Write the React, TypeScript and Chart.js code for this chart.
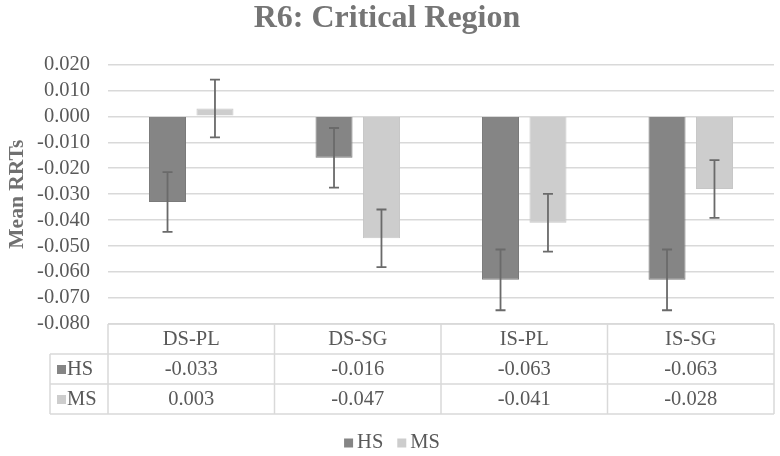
import React, { useRef, useEffect } from "react";
import { Chart, registerables } from "chart.js";

Chart.register(...registerables);

const categories = ["DS-PL", "DS-SG", "IS-PL", "IS-SG"];
const seriesNames = ["HS", "MS"];
const hsValues = [-0.033, -0.016, -0.063, -0.063];
const msValues = [0.003, -0.047, -0.041, -0.028];
const hsErrors = [0.0115, 0.0115, 0.0117, 0.0117];
const msErrors = [0.0111, 0.0111, 0.0111, 0.0111];
const seriesColors = ["#858585", "#cdcdcd"];
const yMin = -0.08;
const yMax = 0.02;
const yStep = 0.01;

const FONT = "'Liberation Serif', 'Times New Roman', serif";
const TEXT = "#595959";
const LINE = "#d9d9d9";
const ROW_H = 30;

const errorBars = {
  id: "errorBars",
  afterDatasetsDraw(chart: any) {
    const ctx = chart.ctx;
    const y = chart.scales.y;
    const errs = [hsErrors, msErrors];
    ctx.save();
    ctx.strokeStyle = "#6a6a6a";
    ctx.lineWidth = 1.8;
    chart.data.datasets.forEach((ds: any, di: number) => {
      const meta = chart.getDatasetMeta(di);
      meta.data.forEach((bar: any, i: number) => {
        const v = ds.data[i] as number;
        const top = y.getPixelForValue(v + errs[di][i]);
        const bot = y.getPixelForValue(v - errs[di][i]);
        ctx.beginPath();
        ctx.moveTo(bar.x, top);
        ctx.lineTo(bar.x, bot);
        ctx.moveTo(bar.x - 5, top);
        ctx.lineTo(bar.x + 5, top);
        ctx.moveTo(bar.x - 5, bot);
        ctx.lineTo(bar.x + 5, bot);
        ctx.stroke();
      });
    });
    ctx.restore();
  },
};

const dataTable = {
  id: "dataTable",
  afterDraw(chart: any) {
    const ctx = chart.ctx;
    const { left, right, bottom } = chart.chartArea;
    const x = chart.scales.x;
    const n = categories.length;
    const colW = (right - left) / n;
    const labelLeft = 50;
    const top = bottom;
    ctx.save();
    ctx.strokeStyle = LINE;
    ctx.lineWidth = 1.5;
    ctx.beginPath();
    ctx.moveTo(left, top);
    ctx.lineTo(right, top);
    for (let r = 1; r <= 3; r++) {
      ctx.moveTo(labelLeft, top + r * ROW_H);
      ctx.lineTo(right, top + r * ROW_H);
    }
    for (let c = 0; c <= n; c++) {
      ctx.moveTo(left + c * colW, top);
      ctx.lineTo(left + c * colW, top + 3 * ROW_H);
    }
    ctx.moveTo(labelLeft, top + ROW_H);
    ctx.lineTo(labelLeft, top + 3 * ROW_H);
    ctx.stroke();

    ctx.font = `20.5px ${FONT}`;
    ctx.fillStyle = TEXT;
    ctx.textAlign = "center";
    ctx.textBaseline = "middle";
    categories.forEach((c, i) => {
      ctx.fillText(c, x.getPixelForValue(i), top + ROW_H / 2 + 1);
    });
    chart.data.datasets.forEach((ds: any, di: number) => {
      const cy = top + ROW_H * (di + 1) + ROW_H / 2 + 1;
      ds.data.forEach((v: number, i: number) => {
        ctx.fillStyle = TEXT;
        ctx.textAlign = "center";
        ctx.fillText(v.toFixed(3), x.getPixelForValue(i), cy);
      });
      ctx.fillStyle = ds.backgroundColor;
      ctx.fillRect(57, cy - 5, 9, 9);
      ctx.fillStyle = TEXT;
      ctx.textAlign = "left";
      ctx.fillText(ds.label, 67, cy);
    });

    // legend
    const legY = 443;
    const sw = 9;
    const gap = 4;
    const itemGap = 14;
    const widths = chart.data.datasets.map((ds: any) => sw + gap + ctx.measureText(ds.label).width);
    const total = widths.reduce((a: number, b: number) => a + b, 0) + itemGap * (widths.length - 1);
    let lx = chart.width / 2 - total / 2 + 2;
    chart.data.datasets.forEach((ds: any, di: number) => {
      ctx.fillStyle = ds.backgroundColor;
      ctx.fillRect(lx, legY - 4.5, sw, sw);
      ctx.fillStyle = TEXT;
      ctx.textAlign = "left";
      ctx.fillText(ds.label, lx + sw + gap, legY);
      lx += widths[di] + itemGap;
    });
    ctx.restore();
  },
};

const App: React.FC = () => {
  const chartRef = useRef<HTMLCanvasElement | null>(null);

  useEffect(() => {
    const chart = new Chart(chartRef.current!.getContext("2d")!, {
      type: "bar",
      data: {
        labels: categories,
        datasets: [
          {
            label: seriesNames[0],
            data: hsValues,
            backgroundColor: seriesColors[0],
            borderColor: "#7a7a7a",
            borderWidth: 1,
          },
          {
            label: seriesNames[1],
            data: msValues,
            backgroundColor: seriesColors[1],
            borderColor: "#c6c6c6",
            borderWidth: 1,
          },
        ],
      },
      options: {
        animation: false,
        responsive: true,
        maintainAspectRatio: false,
        layout: { padding: { left: 0, right: 6, top: 0, bottom: 42 } },
        datasets: {
          bar: { categoryPercentage: 0.57, barPercentage: 0.78 },
        },
        plugins: {
          legend: { display: false },
          tooltip: { enabled: false },
          title: {
            display: true,
            text: "R6: Critical Region",
            color: "#757575",
            font: { family: FONT, size: 32, weight: "bold" },
            padding: { top: 0, bottom: 26 },
          },
        },
        scales: {
          x: {
            grid: { display: false },
            border: { display: false },
            ticks: { display: false },
            afterFit: (s: any) => {
              s.height = 3 * ROW_H;
            },
          },
          y: {
            min: yMin,
            max: yMax,
            border: { display: false },
            grid: { color: LINE, lineWidth: 1.5, drawTicks: false },
            ticks: {
              stepSize: yStep,
              autoSkip: false,
              padding: 18,
              color: TEXT,
              font: { family: FONT, size: 20.5 },
              callback: (v: any) => Number(v).toFixed(3),
            },
            title: {
              display: true,
              text: "Mean RRTs",
              color: "#707070",
              font: { family: FONT, size: 21.5, weight: "bold" },
              padding: { top: 5, bottom: 8 },
            },
            afterFit: (s: any) => {
              s.width = 108;
            },
          },
        },
      },
      plugins: [errorBars, dataTable],
    } as any);

    return () => {
      chart.destroy();
    };
  }, []);

  return (
    <div style={{ position: "fixed", left: 0, top: 0, width: "780px", height: "456px", background: "#fff" }}>
      <canvas ref={chartRef}></canvas>
    </div>
  );
};

export default App;
